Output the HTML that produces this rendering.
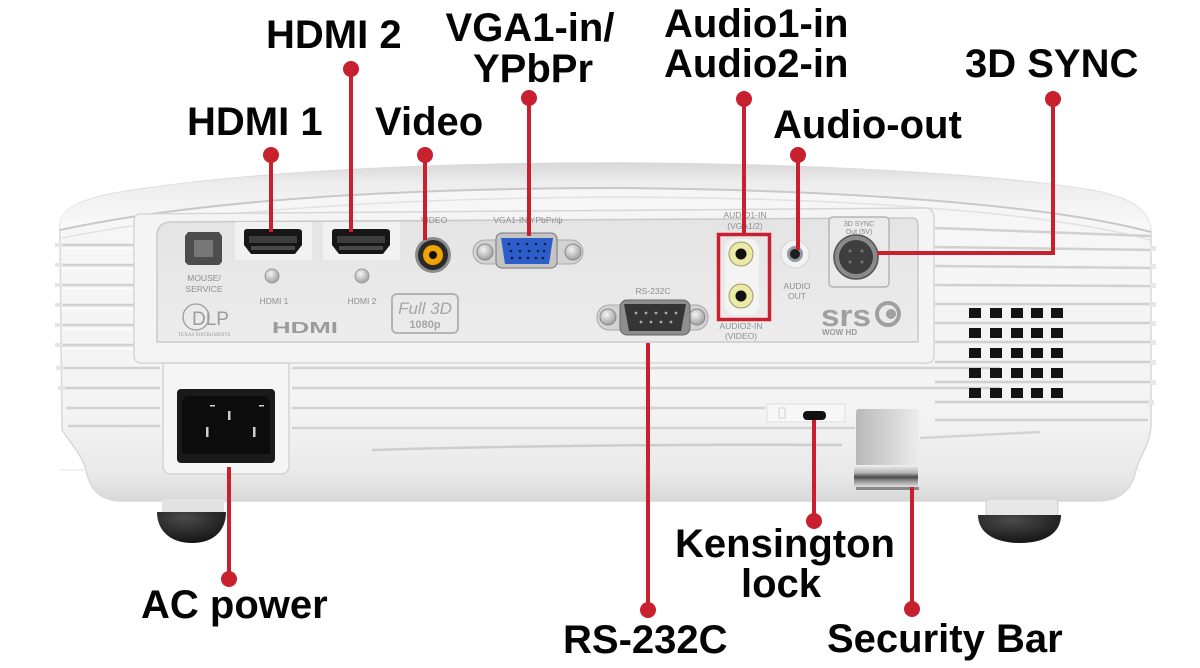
<!DOCTYPE html>
<html><head><meta charset="utf-8">
<style>
html,body{margin:0;padding:0;background:#fff;}
svg{display:block;}
.lbl{font-family:"Liberation Sans",Arial,sans-serif;font-weight:bold;font-size:40px;fill:#050505;}
.sm{font-family:"Liberation Sans",Arial,sans-serif;font-size:8.5px;fill:#8e8e8e;}
</style></head><body>
<svg width="1200" height="668" viewBox="0 0 1200 668" xmlns="http://www.w3.org/2000/svg">
<defs>
 <linearGradient id="gBody" x1="0" y1="0" x2="0" y2="1">
  <stop offset="0" stop-color="#f7f7f7"/><stop offset="0.75" stop-color="#f3f3f3"/><stop offset="0.92" stop-color="#e9e9e9"/><stop offset="1" stop-color="#d8d8d8"/>
 </linearGradient>
 <linearGradient id="gTop" x1="0" y1="0" x2="0" y2="1">
  <stop offset="0" stop-color="#d8d8d8"/><stop offset="0.3" stop-color="#ededed"/><stop offset="1" stop-color="#fafafa"/>
 </linearGradient>
 <linearGradient id="gPanel" x1="0" y1="0" x2="0" y2="1">
  <stop offset="0" stop-color="#e4e4e4"/><stop offset="1" stop-color="#ececec"/>
 </linearGradient>
 <linearGradient id="gRecess" x1="0" y1="0" x2="1" y2="0">
  <stop offset="0" stop-color="#b9b9b9"/><stop offset="0.5" stop-color="#d2d2d2"/><stop offset="1" stop-color="#ececec"/>
 </linearGradient>
 <linearGradient id="gBar" x1="0" y1="0" x2="0" y2="1">
  <stop offset="0" stop-color="#f2f2f2"/><stop offset="0.35" stop-color="#b5b5b5"/><stop offset="0.55" stop-color="#4a4a4a"/><stop offset="0.75" stop-color="#9a9a9a"/><stop offset="1" stop-color="#e0e0e0"/>
 </linearGradient>
 <radialGradient id="gFoot" cx="0.4" cy="0.2" r="0.9">
  <stop offset="0" stop-color="#4a4a4a"/><stop offset="1" stop-color="#0e0e0e"/>
 </radialGradient>
 <radialGradient id="gMetal" cx="0.4" cy="0.35" r="0.7">
  <stop offset="0" stop-color="#f4f4f4"/><stop offset="1" stop-color="#9a9a9a"/>
 </radialGradient>
</defs>

<!-- ===== projector body ===== -->
<path d="M60,232 C58,212 70,203 110,194 C250,170 450,163 620,163 C820,164 1000,175 1090,190 C1135,198 1150,212 1151,232 L1151,425 C1150,445 1140,455 1136,470 C1132,490 1120,500 1100,501 L120,501 C100,500 90,490 86,470 C82,455 72,445 62,430 Z" fill="url(#gBody)" stroke="#d8d8d8" stroke-width="1.5"/>
<!-- top surface -->
<path d="M60,230 C58,212 70,203 110,194 C250,170 450,163 620,163 C820,164 1000,175 1090,190 C1135,198 1150,212 1151,232 C1050,205 850,190 620,188 C400,188 200,200 60,230 Z" fill="url(#gTop)"/>
<path d="M60,230 C200,200 400,188 620,188 C850,190 1050,205 1151,232" fill="none" stroke="#c8c8c8" stroke-width="2"/>
<path d="M62,238 C200,210 400,198 620,197 C850,198 1050,212 1150,240" fill="none" stroke="#e2e2e2" stroke-width="1.5"/>

<!-- left side fins -->
<g stroke="#d0d0d0" stroke-width="2.5">
 <line x1="62" y1="245" x2="136" y2="245"/><line x1="62" y1="265" x2="136" y2="265"/>
 <line x1="62" y1="285" x2="136" y2="285"/><line x1="62" y1="305" x2="136" y2="305"/>
 <line x1="62" y1="325" x2="136" y2="325"/><line x1="62" y1="345" x2="136" y2="345"/>
 <line x1="64" y1="368" x2="160" y2="368"/><line x1="64" y1="388" x2="160" y2="388"/>
 <line x1="66" y1="408" x2="160" y2="408"/><line x1="68" y1="426" x2="160" y2="426"/>
</g>
<g stroke="#fbfbfb" stroke-width="1.5">
 <line x1="62" y1="249" x2="136" y2="249"/><line x1="62" y1="269" x2="136" y2="269"/>
 <line x1="62" y1="289" x2="136" y2="289"/><line x1="62" y1="309" x2="136" y2="309"/>
 <line x1="62" y1="329" x2="136" y2="329"/><line x1="62" y1="349" x2="136" y2="349"/>
</g>
<g fill="#e4e4e4">
 <rect x="55" y="243" width="8" height="4"/><rect x="55" y="263" width="8" height="4"/><rect x="55" y="283" width="8" height="4"/>
 <rect x="55" y="303" width="8" height="4"/><rect x="55" y="323" width="8" height="4"/><rect x="55" y="343" width="8" height="4"/>
 <rect x="56" y="366" width="8" height="4"/><rect x="58" y="386" width="8" height="4"/>
</g>
<!-- right side fins -->
<g stroke="#d0d0d0" stroke-width="2.5">
 <line x1="935" y1="228" x2="1151" y2="236"/><line x1="935" y1="247" x2="1151" y2="250"/>
 <line x1="935" y1="266" x2="1151" y2="268"/><line x1="935" y1="285" x2="1151" y2="286"/>
 <line x1="935" y1="304" x2="1151" y2="304"/><line x1="935" y1="323" x2="1151" y2="323"/>
 <line x1="935" y1="342" x2="1151" y2="342"/><line x1="935" y1="362" x2="1151" y2="362"/>
 <line x1="935" y1="382" x2="1151" y2="382"/><line x1="935" y1="402" x2="1151" y2="402"/>
 <line x1="935" y1="420" x2="1148" y2="420"/>
</g>
<g fill="#e6e6e6">
 <rect x="1150" y="246" width="6" height="5"/><rect x="1150" y="264" width="6" height="5"/><rect x="1150" y="283" width="6" height="5"/>
 <rect x="1150" y="302" width="6" height="5"/><rect x="1150" y="321" width="6" height="5"/><rect x="1150" y="340" width="6" height="5"/>
 <rect x="1150" y="360" width="6" height="5"/><rect x="1150" y="380" width="6" height="5"/><rect x="1148" y="400" width="6" height="5"/>
</g>
<!-- lower middle ribs -->
<g stroke="#d3d3d3" stroke-width="2.5">
 <line x1="292" y1="368" x2="1000" y2="368"/><line x1="292" y1="388" x2="1000" y2="388"/>
 <line x1="292" y1="408" x2="765" y2="408"/><line x1="292" y1="428" x2="855" y2="428"/>
 <line x1="920" y1="438" x2="1040" y2="432"/>
</g>
<path d="M372,450 C500,446 700,444 842,445" fill="none" stroke="#cdcdcd" stroke-width="2.5"/>
<path d="M60,470 L1140,470" stroke="#e6e6e6" stroke-width="1"/>

<!-- vents -->
<g fill="#141414">
 <rect x="969" y="308" width="12" height="10"/><rect x="990" y="308" width="12" height="10"/><rect x="1011" y="308" width="12" height="10"/><rect x="1031" y="308" width="12" height="10"/><rect x="1051" y="308" width="12" height="10"/>
 <rect x="969" y="328" width="12" height="10"/><rect x="990" y="328" width="12" height="10"/><rect x="1011" y="328" width="12" height="10"/><rect x="1031" y="328" width="12" height="10"/><rect x="1051" y="328" width="12" height="10"/>
 <rect x="969" y="348" width="12" height="10"/><rect x="990" y="348" width="12" height="10"/><rect x="1011" y="348" width="12" height="10"/><rect x="1031" y="348" width="12" height="10"/><rect x="1051" y="348" width="12" height="10"/>
 <rect x="969" y="368" width="12" height="10"/><rect x="990" y="368" width="12" height="10"/><rect x="1011" y="368" width="12" height="10"/><rect x="1031" y="368" width="12" height="10"/><rect x="1051" y="368" width="12" height="10"/>
 <rect x="969" y="388" width="12" height="10"/><rect x="990" y="388" width="12" height="10"/><rect x="1011" y="388" width="12" height="10"/><rect x="1031" y="388" width="12" height="10"/><rect x="1051" y="388" width="12" height="10"/>
</g>

<!-- connector panel -->
<path d="M140,214 L925,208 Q934,208 934,218 L934,356 Q934,363 926,363 L142,363 Q134,363 134,355 L134,222 Q134,214 140,214 Z" fill="#f4f4f4" stroke="#d6d6d6" stroke-width="1.5"/>
<path d="M170,222 L912,218 Q918,218 918,225 L918,342 L157,342 L157,236 Q157,223 170,222 Z" fill="url(#gPanel)" stroke="#c9c9c9" stroke-width="1.5"/>

<!-- mouse/service -->
<path d="M188,232 L219,232 L222,236 L222,262 L219,265 L188,265 L185,262 L185,236 Z" fill="#4d4d4d"/>
<rect x="194" y="240" width="19" height="17" fill="#777"/>
<text class="sm" x="204" y="281" text-anchor="middle">MOUSE/</text>
<text class="sm" x="204" y="292" text-anchor="middle">SERVICE</text>
<!-- DLP -->
<circle cx="196" cy="317" r="13" fill="none" stroke="#9c9c9c" stroke-width="1.3"/>
<text x="192" y="325" font-family="Liberation Sans,Arial,sans-serif" font-size="19" fill="#9c9c9c">DLP</text>
<text x="178" y="336" font-family="Liberation Serif,serif" font-size="5" fill="#999">TEXAS INSTRUMENTS</text>

<!-- HDMI 1 / 2 -->
<rect x="235" y="222" width="77" height="38" fill="#f1f1f1"/>
<rect x="323" y="222" width="77" height="38" fill="#f1f1f1"/>
<path d="M244,232 Q244,229 247,229 L298,229 Q302,229 302,232 L302,245 L295,254 L251,254 L244,245 Z" fill="#161616"/>
<path d="M249,236 L297,236 L297,243 L249,243 Z" fill="#3d3d3d"/>
<rect x="251" y="246" width="44" height="4" fill="#4a4a4a"/>
<path d="M332,232 Q332,229 335,229 L386,229 Q390,229 390,232 L390,245 L383,254 L339,254 L332,245 Z" fill="#161616"/>
<path d="M337,236 L385,236 L385,243 L337,243 Z" fill="#3d3d3d"/>
<rect x="339" y="246" width="44" height="4" fill="#4a4a4a"/>
<circle cx="272" cy="276" r="7" fill="url(#gMetal)" stroke="#9a9a9a"/>
<circle cx="362" cy="276" r="7" fill="url(#gMetal)" stroke="#9a9a9a"/>
<text class="sm" x="274" y="304" text-anchor="middle">HDMI  1</text>
<text class="sm" x="362" y="304" text-anchor="middle">HDMI  2</text>
<text x="272" y="333" font-family="Liberation Sans,Arial,sans-serif" font-weight="bold" font-size="16" fill="#9b9b9b" textLength="66" lengthAdjust="spacingAndGlyphs">HDMI</text>
<!-- Full 3D -->
<rect x="392" y="294" width="66" height="39" rx="5" fill="none" stroke="#b4b4b4" stroke-width="2"/>
<text x="425" y="314" text-anchor="middle" font-family="Liberation Sans,Arial,sans-serif" font-style="italic" font-size="17" fill="#a5a5a5">Full 3D</text>
<text x="425" y="328" text-anchor="middle" font-family="Liberation Sans,Arial,sans-serif" font-weight="bold" font-size="11" fill="#a5a5a5">1080p</text>

<!-- Video -->
<text class="sm" x="434" y="223" text-anchor="middle">VIDEO</text>
<circle cx="433" cy="255" r="18" fill="#8c8c8c"/>
<circle cx="433" cy="255" r="15" fill="#2a2a2a"/>
<circle cx="433" cy="255" r="10" fill="#f1a400"/>
<circle cx="433" cy="255" r="4" fill="#111"/>

<!-- VGA -->
<text class="sm" x="528" y="223" text-anchor="middle">VGA1-IN/YPbPr/ψ</text>
<rect x="473" y="240" width="110" height="24" rx="12" fill="#d3d3d3" stroke="#a8a8a8"/>
<circle cx="485" cy="252" r="8" fill="url(#gMetal)" stroke="#8a8a8a"/>
<circle cx="573" cy="252" r="8" fill="url(#gMetal)" stroke="#8a8a8a"/>
<rect x="496" y="233" width="61" height="35" rx="6" fill="#c4c4c4" stroke="#777"/>
<path d="M501,238 L553,238 L549,264 L505,264 Z" fill="#2c5dc9"/>
<g fill="#0d1d4a">
 <circle cx="509" cy="244" r="1.3"/><circle cx="518" cy="244" r="1.3"/><circle cx="527" cy="244" r="1.3"/><circle cx="536" cy="244" r="1.3"/><circle cx="545" cy="244" r="1.3"/>
 <circle cx="511" cy="251" r="1.3"/><circle cx="520" cy="251" r="1.3"/><circle cx="529" cy="251" r="1.3"/><circle cx="538" cy="251" r="1.3"/><circle cx="544" cy="251" r="1.3"/>
 <circle cx="512" cy="258" r="1.3"/><circle cx="520" cy="258" r="1.3"/><circle cx="528" cy="258" r="1.3"/><circle cx="536" cy="258" r="1.3"/><circle cx="543" cy="258" r="1.3"/>
</g>

<!-- RS-232C -->
<text class="sm" x="653" y="294" text-anchor="middle">RS-232C</text>
<rect x="597" y="305" width="111" height="25" rx="12" fill="#d3d3d3" stroke="#a8a8a8"/>
<circle cx="608" cy="317" r="8" fill="url(#gMetal)" stroke="#8a8a8a"/>
<circle cx="697" cy="317" r="8" fill="url(#gMetal)" stroke="#8a8a8a"/>
<rect x="620" y="300" width="70" height="35" rx="7" fill="#8e8e8e" stroke="#666"/>
<path d="M624,304 L686,304 L681,331 L629,331 Z" fill="#353535"/>
<g fill="#aaa">
 <circle cx="636" cy="313" r="1.4"/><circle cx="646" cy="313" r="1.4"/><circle cx="656" cy="313" r="1.4"/><circle cx="666" cy="313" r="1.4"/><circle cx="676" cy="313" r="1.4"/>
 <circle cx="641" cy="322" r="1.4"/><circle cx="651" cy="322" r="1.4"/><circle cx="661" cy="322" r="1.4"/><circle cx="671" cy="322" r="1.4"/>
</g>

<!-- audio in -->
<text class="sm" x="745" y="218" text-anchor="middle">AUDIO1-IN</text>
<text class="sm" x="745" y="229" text-anchor="middle">(VGA1/2)</text>
<rect x="725" y="239" width="34" height="76" rx="10" fill="#f3f3f3"/>
<circle cx="741" cy="254" r="12" fill="#eceaa5" stroke="#9a9a70"/>
<circle cx="741" cy="254" r="5.5" fill="#111"/>
<circle cx="741" cy="296" r="12" fill="#eceaa5" stroke="#9a9a70"/>
<circle cx="741" cy="296" r="5.5" fill="#111"/>
<text class="sm" x="741" y="329" text-anchor="middle">AUDIO2-IN</text>
<text class="sm" x="741" y="339" text-anchor="middle">(VIDEO)</text>
<rect x="718.5" y="234.5" width="51" height="85" fill="none" stroke="#c8202f" stroke-width="3.5"/>

<!-- audio out -->
<circle cx="795" cy="254" r="14" fill="#f2f2f2" stroke="#d5d5d5"/>
<circle cx="795" cy="254" r="8" fill="#8f98a3"/>
<circle cx="795" cy="254" r="5" fill="#1e1e1e"/>
<text class="sm" x="797" y="289" text-anchor="middle">AUDIO</text>
<text class="sm" x="797" y="299" text-anchor="middle">OUT</text>

<!-- 3D sync -->
<rect x="829" y="217" width="60" height="70" rx="4" fill="#eaeaea" stroke="#a9a9a9" stroke-width="1.2"/>
<text x="859" y="226" text-anchor="middle" font-family="Liberation Sans,Arial,sans-serif" font-size="7" fill="#888">3D SYNC</text>
<text x="859" y="234" text-anchor="middle" font-family="Liberation Sans,Arial,sans-serif" font-size="7" fill="#888">Out (5V)</text>
<circle cx="856" cy="257" r="22" fill="#8a8a8a" stroke="#555" stroke-width="1.5"/>
<circle cx="856" cy="257" r="17" fill="#3e3e3e"/>
<g fill="#777"><circle cx="850" cy="251" r="1.5"/><circle cx="862" cy="251" r="1.5"/><circle cx="850" cy="262" r="1.5"/><circle cx="862" cy="262" r="1.5"/></g>

<!-- srs -->
<text x="821" y="326" font-family="Liberation Sans,Arial,sans-serif" font-weight="bold" font-size="31" fill="#a0a0a0" textLength="50" lengthAdjust="spacingAndGlyphs">srs</text>
<circle cx="888" cy="314" r="11" fill="none" stroke="#a0a0a0" stroke-width="4"/>
<circle cx="891" cy="314" r="5" fill="#a0a0a0"/>
<text x="822" y="335" font-family="Liberation Sans,Arial,sans-serif" font-weight="bold" font-size="8" fill="#9a9a9a">WOW HD</text>

<!-- AC housing -->
<path d="M163,363 L289,363 L289,465 Q289,474 280,474 L172,474 Q163,474 163,465 Z" fill="#f5f5f5" stroke="#d4d4d4" stroke-width="1.5"/>
<rect x="177" y="389" width="98" height="74" rx="4" fill="#1a1a1a"/>
<path d="M186,396 L266,396 L270,402 L270,454 L182,454 L182,402 Z" fill="#0c0c0c"/>
<g fill="#cfcfcf">
 <rect x="228" y="411" width="2.5" height="9"/><rect x="206" y="427" width="2.5" height="10"/><rect x="253" y="427" width="2.5" height="10"/>
 <rect x="210" y="405" width="5" height="1.5"/><rect x="259" y="405" width="5" height="1.5"/>
</g>

<!-- Kensington -->
<rect x="767" y="404" width="78" height="18" fill="#f7f7f7" stroke="#dedede"/>
<rect x="779" y="408" width="6" height="10" fill="none" stroke="#d0d0d0"/>
<rect x="803" y="411" width="23" height="9" rx="4" fill="#111"/>

<!-- security bar -->
<rect x="856" y="409" width="63" height="81" rx="3" fill="url(#gRecess)"/>
<rect x="854" y="465" width="64" height="22" fill="url(#gBar)"/>
<rect x="856" y="487" width="63" height="3" fill="#888"/>

<!-- feet -->
<rect x="162" y="499" width="62" height="14" fill="#e2e2e2"/>
<path d="M157,512 L226,512 C226,532 212,543 192,543 C172,543 157,532 157,512 Z" fill="url(#gFoot)"/>
<rect x="986" y="499" width="72" height="17" rx="3" fill="#e7e7e7" stroke="#cfcfcf"/>
<path d="M978,515 L1061,515 C1061,533 1045,543 1020,543 C995,543 978,533 978,515 Z" fill="url(#gFoot)"/>

<!-- ===== callout lines ===== -->
<g stroke="#c8202f" stroke-width="4" fill="none">
 <line x1="351" y1="69" x2="351" y2="232"/>
 <line x1="271" y1="155" x2="271" y2="232"/>
 <line x1="425" y1="155" x2="425" y2="240"/>
 <line x1="529" y1="98" x2="529" y2="236"/>
 <line x1="744" y1="99" x2="744" y2="234"/>
 <line x1="798" y1="155" x2="798" y2="250"/>
 <polyline points="1053,99 1053,253 877,253"/>
 <line x1="229" y1="467" x2="229" y2="579"/>
 <line x1="648" y1="343" x2="648" y2="610"/>
 <line x1="814" y1="420" x2="814" y2="521"/>
 <line x1="912" y1="487" x2="912" y2="609"/>
</g>
<g fill="#c8202f">
 <circle cx="351" cy="69" r="8"/><circle cx="271" cy="155" r="8"/><circle cx="425" cy="155" r="8"/>
 <circle cx="529" cy="98" r="8"/><circle cx="744" cy="99" r="8"/><circle cx="798" cy="155" r="8"/>
 <circle cx="1053" cy="99" r="8"/><circle cx="229" cy="579" r="8"/><circle cx="648" cy="610" r="8"/>
 <circle cx="814" cy="521" r="8"/><circle cx="912" cy="609" r="8"/>
</g>

<!-- ===== labels ===== -->
<text class="lbl" x="266" y="48">HDMI 2</text>
<text class="lbl" x="187" y="135">HDMI 1</text>
<text class="lbl" x="375" y="135">Video</text>
<text class="lbl" x="530" y="41" text-anchor="middle">VGA1-in/</text>
<text class="lbl" x="533" y="82" text-anchor="middle">YPbPr</text>
<text class="lbl" x="664" y="37">Audio1-in</text>
<text class="lbl" x="664" y="77">Audio2-in</text>
<text class="lbl" x="773" y="138">Audio-out</text>
<text class="lbl" x="965" y="77">3D SYNC</text>
<text class="lbl" x="141" y="618">AC power</text>
<text class="lbl" x="563" y="653">RS-232C</text>
<text class="lbl" x="785" y="557" text-anchor="middle">Kensington</text>
<text class="lbl" x="781" y="597" text-anchor="middle">lock</text>
<text class="lbl" x="827" y="652">Security Bar</text>
</svg>
</body></html>
